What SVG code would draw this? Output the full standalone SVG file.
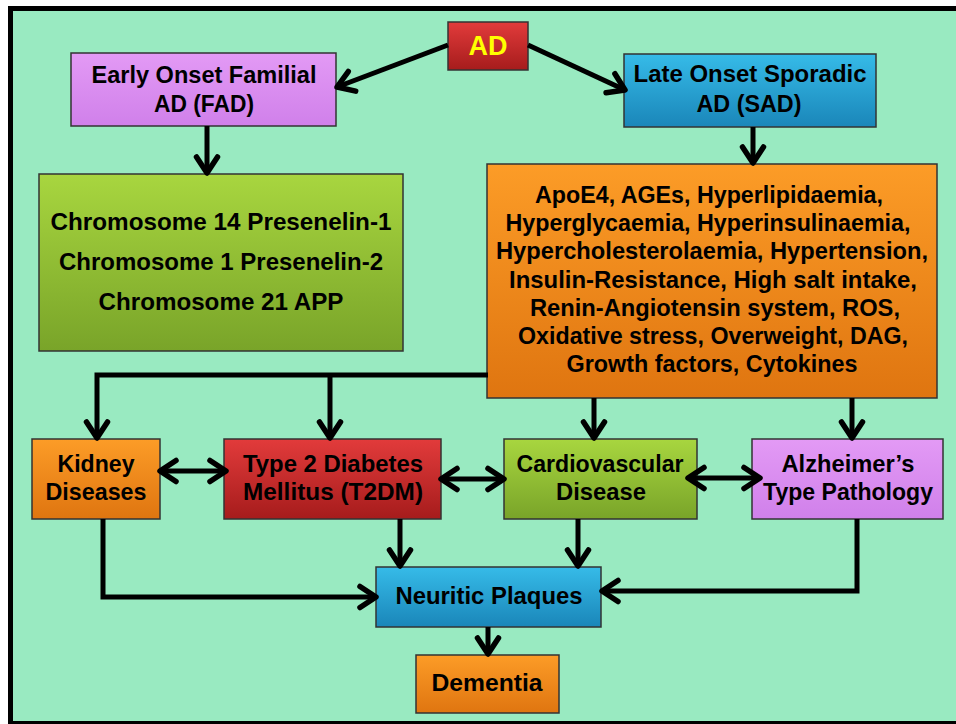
<svg xmlns="http://www.w3.org/2000/svg" width="956" height="724" viewBox="0 0 956 724">
<defs>
<linearGradient id="gRed" x1="0" y1="0" x2="0" y2="1"><stop offset="0" stop-color="#e23b3b"/><stop offset="1" stop-color="#a61c1c"/></linearGradient>
<linearGradient id="gPur" x1="0" y1="0" x2="0" y2="1"><stop offset="0" stop-color="#e39af5"/><stop offset="1" stop-color="#d080ea"/></linearGradient>
<linearGradient id="gBlue" x1="0" y1="0" x2="0" y2="1"><stop offset="0" stop-color="#36bbe8"/><stop offset="1" stop-color="#1a86b9"/></linearGradient>
<linearGradient id="gGreen" x1="0" y1="0" x2="0" y2="1"><stop offset="0" stop-color="#a8d63f"/><stop offset="1" stop-color="#79a429"/></linearGradient>
<linearGradient id="gOrange" x1="0" y1="0" x2="0" y2="1"><stop offset="0" stop-color="#fc9c27"/><stop offset="1" stop-color="#df7510"/></linearGradient>
<marker id="ah" markerUnits="userSpaceOnUse" markerWidth="32" markerHeight="32" viewBox="0 0 32 32" refX="26" refY="16" orient="auto-start-reverse">
<path d="M10,5.5 L26,16 L10,26.5" fill="none" stroke="#000" stroke-width="5.5" stroke-linecap="round" stroke-linejoin="round"/>
</marker>
<style>
.box{stroke:#333;stroke-width:1.5}
.t{font-family:"Liberation Sans",Arial,"DejaVu Sans",sans-serif;font-weight:bold;font-size:24px;fill:#000;text-anchor:middle}
.c{fill:none;stroke:#000;stroke-width:5;stroke-linejoin:miter;marker-end:url(#ah)}
.d{marker-start:url(#ah)}
</style>
</defs>
<rect x="0" y="0" width="956" height="724" fill="#ffffff"/>
<rect x="8" y="6" width="948" height="718" fill="#000"/>
<rect x="13" y="11" width="943" height="710" fill="#99eac1"/>

<g id="ad"><rect class="box" x="448" y="22" width="80" height="48" fill="url(#gRed)"/><text class="t" x="488" y="55" textLength="39" lengthAdjust="spacingAndGlyphs" style="fill:#ffff00;font-size:28px">AD</text></g>

<g id="fad"><rect class="box" x="71" y="53" width="265" height="73" fill="url(#gPur)"/>
<text class="t" x="204" y="83" textLength="225" lengthAdjust="spacingAndGlyphs">Early Onset Familial</text>
<text class="t" x="204" y="112" textLength="100" lengthAdjust="spacingAndGlyphs">AD (FAD)</text></g>

<g id="sad"><rect class="box" x="624" y="54" width="252" height="73" fill="url(#gBlue)"/>
<text class="t" x="750" y="82" textLength="233" lengthAdjust="spacingAndGlyphs">Late Onset Sporadic</text>
<text class="t" x="749" y="112" textLength="105" lengthAdjust="spacingAndGlyphs">AD (SAD)</text></g>

<g id="chrom"><rect class="box" x="39" y="174" width="364" height="177" fill="url(#gGreen)"/>
<text class="t" x="221" y="230" textLength="341" lengthAdjust="spacingAndGlyphs">Chromosome 14 Presenelin-1</text>
<text class="t" x="221" y="270" textLength="324" lengthAdjust="spacingAndGlyphs">Chromosome 1 Presenelin-2</text>
<text class="t" x="221" y="310" textLength="245" lengthAdjust="spacingAndGlyphs">Chromosome 21 APP</text></g>

<g id="factors"><rect class="box" x="487" y="164" width="450" height="234" fill="url(#gOrange)"/>
<text class="t" x="709" y="203" textLength="348" lengthAdjust="spacingAndGlyphs">ApoE4, AGEs, Hyperlipidaemia,</text>
<text class="t" x="708" y="231" textLength="405" lengthAdjust="spacingAndGlyphs">Hyperglycaemia, Hyperinsulinaemia,</text>
<text class="t" x="712" y="259" textLength="432" lengthAdjust="spacingAndGlyphs">Hypercholesterolaemia, Hypertension,</text>
<text class="t" x="713" y="288" textLength="408" lengthAdjust="spacingAndGlyphs">Insulin-Resistance, High salt intake,</text>
<text class="t" x="715" y="316" textLength="370" lengthAdjust="spacingAndGlyphs">Renin-Angiotensin system, ROS,</text>
<text class="t" x="713" y="344" textLength="390" lengthAdjust="spacingAndGlyphs">Oxidative stress, Overweight, DAG,</text>
<text class="t" x="712" y="372" textLength="291" lengthAdjust="spacingAndGlyphs">Growth factors, Cytokines</text></g>

<g id="kidney"><rect class="box" x="32" y="439" width="128" height="80" fill="url(#gOrange)"/>
<text class="t" x="96" y="472" textLength="77" lengthAdjust="spacingAndGlyphs">Kidney</text>
<text class="t" x="96" y="500" textLength="101" lengthAdjust="spacingAndGlyphs">Diseases</text></g>

<g id="t2dm"><rect class="box" x="224" y="439" width="217" height="80" fill="url(#gRed)"/>
<text class="t" x="333" y="472" textLength="180" lengthAdjust="spacingAndGlyphs">Type 2 Diabetes</text>
<text class="t" x="333" y="500" textLength="180" lengthAdjust="spacingAndGlyphs">Mellitus (T2DM)</text></g>

<g id="cardio"><rect class="box" x="504" y="439" width="193" height="80" fill="url(#gGreen)"/>
<text class="t" x="600" y="472" textLength="167" lengthAdjust="spacingAndGlyphs">Cardiovascular</text>
<text class="t" x="601" y="500" textLength="90" lengthAdjust="spacingAndGlyphs">Disease</text></g>

<g id="alz"><rect class="box" x="752" y="439" width="191" height="80" fill="url(#gPur)"/>
<text class="t" x="848" y="472" textLength="133" lengthAdjust="spacingAndGlyphs">Alzheimer’s</text>
<text class="t" x="848" y="500" textLength="170" lengthAdjust="spacingAndGlyphs">Type Pathology</text></g>

<g id="np"><rect class="box" x="376" y="567" width="225" height="60" fill="url(#gBlue)"/>
<text class="t" x="489" y="604" textLength="187" lengthAdjust="spacingAndGlyphs">Neuritic Plaques</text></g>

<g id="dementia"><rect class="box" x="416" y="655" width="143" height="58" fill="url(#gOrange)"/>
<text class="t" x="487" y="691" textLength="111" lengthAdjust="spacingAndGlyphs">Dementia</text></g>

<g id="connectors">
<path class="c" d="M448,45 L337,87"/>
<path class="c" d="M528,45 L625,90"/>
<path class="c" d="M207,126 L207,173"/>
<path class="c" d="M753,127 L753,163"/>
<path class="c" d="M488,375 H97 V438"/>
<path class="c" d="M330,375 V438"/>
<path class="c" d="M594,398 V438"/>
<path class="c" d="M852,398 V438"/>
<path class="c d" d="M160,471 H226"/>
<path class="c d" d="M441,479 H504"/>
<path class="c d" d="M688,478 H760"/>
<path class="c" d="M103,519 V597 H376"/>
<path class="c" d="M400,519 V566"/>
<path class="c" d="M578,519 V566"/>
<path class="c" d="M857,519 V591 H602"/>
<path class="c" d="M488,627 V654"/>
</g>
</svg>
